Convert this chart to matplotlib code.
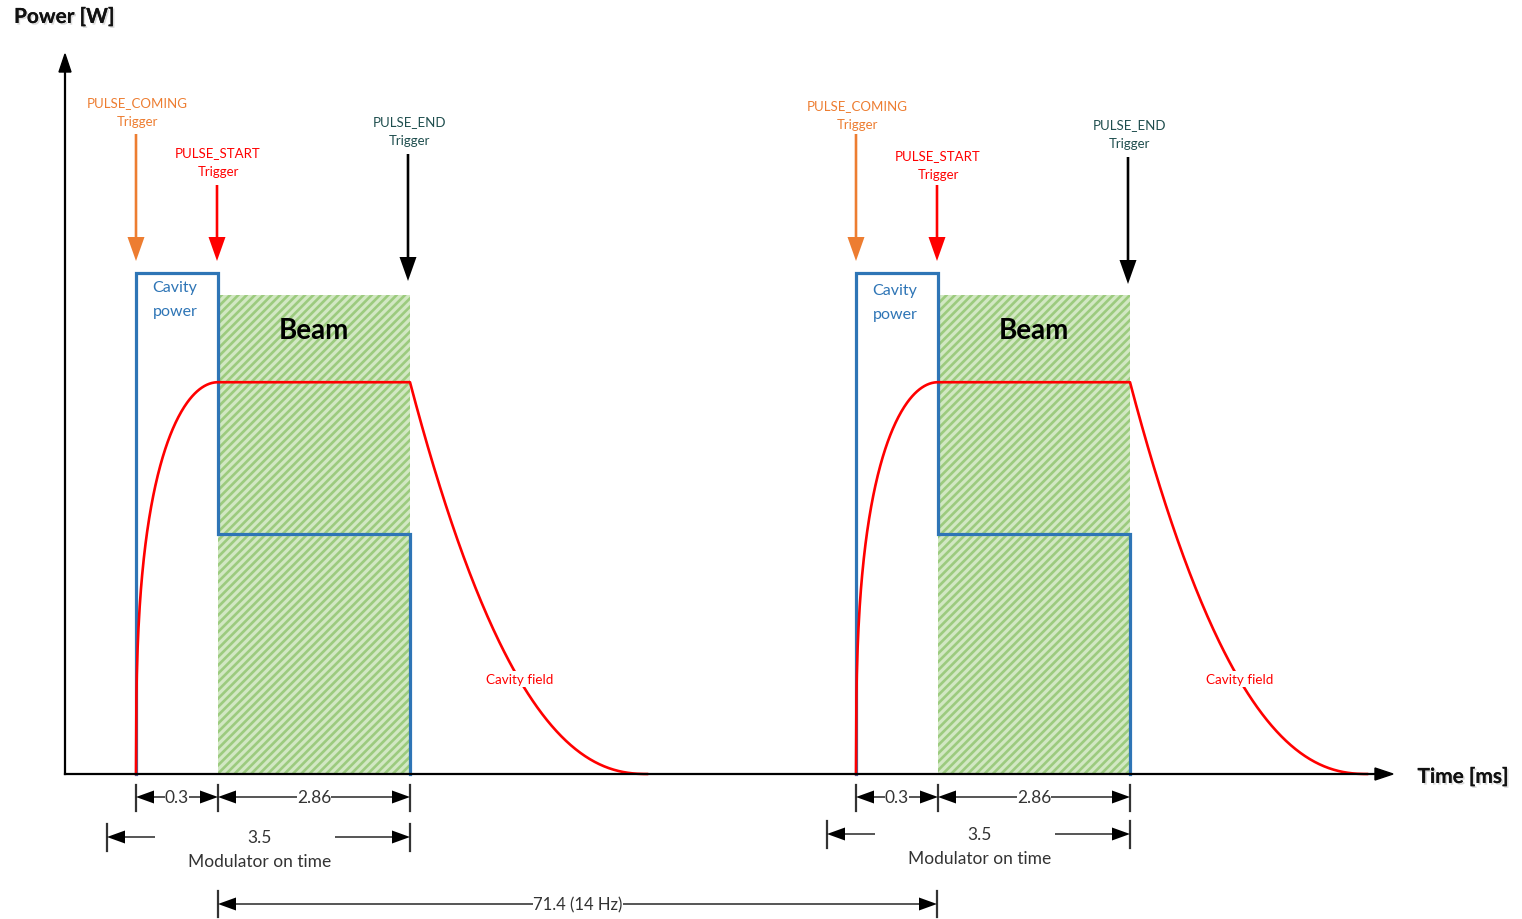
import numpy as np
import matplotlib
matplotlib.use("Agg")
import matplotlib.pyplot as plt
import matplotlib.patheffects as pe
from matplotlib.patches import Rectangle

plt.rcParams['font.family'] = ['Lato', 'DejaVu Sans']
plt.rcParams['hatch.linewidth'] = 1.9

# ---------------- data (schematic) ----------------
trigger_names = ["PULSE_COMING", "PULSE_START", "PULSE_END"]
trigger_colors = ["#ED7D31", "#FF0000", "#000000"]
trigger_text_colors = ["#ED7D31", "#FF0000", "#1F4E4E"]
fill_time_ms = 0.3
beam_time_ms = 2.86
modulator_time_ms = 3.5
period_ms = 71.4
rep_rate_hz = 14

# relative power levels (1.0 = cavity-fill power)
level_fill = 1.0
level_beam_box = 0.956
level_with_beam = 0.479
level_field = 0.782

# schematic x positions (pixels) of the two pulses
pulse_start_x = [136, 856]
fill_w = 82
beam_w = 192
decay_w = 237
label_dy = [0, 3]

# ---------------- layout ----------------
W, H = 1522, 920
fig = plt.figure(figsize=(W / 100, H / 100), dpi=100)
ax = fig.add_axes([0, 0, 1, 1])
ax.set_xlim(0, W)
ax.set_ylim(H, 0)
ax.axis('off')

Y0 = 775          # time axis
SCALE = 501       # pixels per unit power


def py(level):
    return Y0 - SCALE * level


BLUE = "#2E75B6"
RED = "#FF0000"
DARK = "#333333"

# axes
ax.plot([65, 65], [Y0, 70], color='black', lw=1.6, zorder=5)
ax.arrow(65, 75, 0, -20, width=0.1, head_width=12, head_length=18,
         length_includes_head=True, color='black', zorder=5)
ax.plot([65, 1380], [Y0, Y0], color='black', lw=1.6, zorder=5)
ax.arrow(1375, Y0, 18, 0, width=0.1, head_width=12, head_length=18,
         length_includes_head=True, color='black', zorder=5)

shadow = [pe.withSimplePatchShadow(offset=(1.2, -1.2), shadow_rgbFace='#999999', alpha=0.35),
          pe.Normal()]
ax.text(14, 18, "Power [W]", fontsize=15, fontweight='bold', ha='left', va='center',
        color='#111111', path_effects=shadow)
ax.text(1463, 778, "Time [ms]", fontsize=15, fontweight='bold', ha='center', va='center',
        color='#111111', path_effects=shadow)


def dim_arrow(x_from, x_to, y):
    ax.arrow(x_from, y, x_to - x_from, 0, width=1.3, head_width=13, head_length=18,
             length_includes_head=True, color='black', lw=0, zorder=4)


for k, x0 in enumerate(pulse_start_x):
    dy = label_dy[k]
    xs = x0 + fill_w
    xe = xs + beam_w

    # beam hatched area
    ax.add_patch(Rectangle((xs, py(level_beam_box)), beam_w, SCALE * level_beam_box,
                           facecolor="#D2E8C3", edgecolor="#9CCB7E", hatch='////', lw=0, zorder=1))
    ax.text((xs + xe) / 2, 331, "Beam", fontsize=20, fontweight='bold', ha='center', va='center',
            zorder=6)

    # cavity power (blue outline)
    bx = [x0, x0, xs, xs, xe, xe]
    by = [Y0, py(level_fill), py(level_fill), py(level_with_beam), py(level_with_beam), Y0]
    ax.plot(bx, by, color=BLUE, lw=2.3, solid_joinstyle='miter', zorder=3)
    ax.text((x0 + xs) / 2 - 2, 288 + dy, "Cavity", fontsize=11.5, color=BLUE, ha='center', va='center')
    ax.text((x0 + xs) / 2 - 2, 312 + dy, "power", fontsize=11.5, color=BLUE, ha='center', va='center')

    # cavity field (red)
    t = np.linspace(0, 1, 200)
    rise = level_field * (1 - (1 - t) ** 2) ** 0.35
    decay = level_field * (1 - t) ** 2.3
    fx = np.concatenate([x0 + fill_w * t, [xe], xe + decay_w * t])
    fy = np.concatenate([py(rise), [py(level_field)], py(decay)])
    ax.plot(fx, fy, color=RED, lw=1.9, zorder=4)
    ax.text(xe + 110, 680, "Cavity field", fontsize=9.7, color=RED, ha='center', va='center',
            zorder=5, bbox=dict(facecolor='white', edgecolor='none', pad=1.5))

    # triggers
    trig_x = [x0, xs - 1, xe - 2]
    trig_top = [135, 186, 155 + dy]
    trig_tip = [262, 262, 282 + dy]
    lab_y = [103 + dy, 153 + dy, 122 + dy]
    for name, col, tcol, tx, t0, t1, ly in zip(trigger_names, trigger_colors, trigger_text_colors,
                                               trig_x, trig_top, trig_tip, lab_y):
        ax.arrow(tx, t0, 0, t1 - t0, width=2.6, head_width=17, head_length=24,
                 length_includes_head=True, color=col, lw=0, zorder=5)
        ax.text(tx + 1, ly, name, fontsize=9.5, color=tcol, ha='center', va='center')
        ax.text(tx + 1, ly + 19, "Trigger", fontsize=9.5, color=tcol, ha='center', va='center')

    # dimension row 1
    r1 = 798
    for xx in (x0, xs, xe):
        ax.plot([xx, xx], [r1 - 12, r1 + 14], color=DARK, lw=1.6, zorder=4)
    xm = (x0 + xs) / 2
    dim_arrow(xm, x0, r1)
    dim_arrow(xm, xs, r1)
    ax.text(xm, r1, f"{fill_time_ms}", fontsize=12.5, ha='center', va='center', color=DARK,
            zorder=6, bbox=dict(facecolor='white', edgecolor='none', pad=0.3))
    xm2 = (xs + xe) / 2
    dim_arrow(xm2, xs, r1)
    dim_arrow(xm2, xe, r1)
    ax.text(xm2, r1, f"{beam_time_ms}", fontsize=12.5, ha='center', va='center', color=DARK,
            zorder=6, bbox=dict(facecolor='white', edgecolor='none', pad=0.3))

    # dimension row 2 (modulator on time)
    r2 = 838 - dy
    xl = x0 - 29
    for xx in (xl, xe):
        ax.plot([xx, xx], [r2 - 13, r2 + 14], color=DARK, lw=1.6, zorder=4)
    dim_arrow(xl + 48, xl, r2)
    dim_arrow(xe - 75, xe, r2)
    ax.text((xl + xe) / 2 + 1.5, r2, f"{modulator_time_ms}", fontsize=12.5, ha='center',
            va='center', color=DARK)
    ax.text((xl + xe) / 2 + 1.5, r2 + 24, "Modulator on time", fontsize=12.5, ha='center',
            va='center', color=DARK)

# period dimension
r3 = 905
pa = pulse_start_x[0] + fill_w
pb = pulse_start_x[1] + fill_w - 1
for xx in (pa, pb):
    ax.plot([xx, xx], [r3 - 13, r3 + 13], color=DARK, lw=1.6, zorder=4)
pm = (pa + pb) / 2
dim_arrow(pm, pa, r3)
dim_arrow(pm, pb, r3)
ax.text(578, r3, f"{period_ms} ({rep_rate_hz} Hz)", fontsize=12, ha='center', va='center',
        color=DARK, zorder=6, bbox=dict(facecolor='white', edgecolor='none', pad=0.3))

fig.savefig("out.png", dpi=100)
